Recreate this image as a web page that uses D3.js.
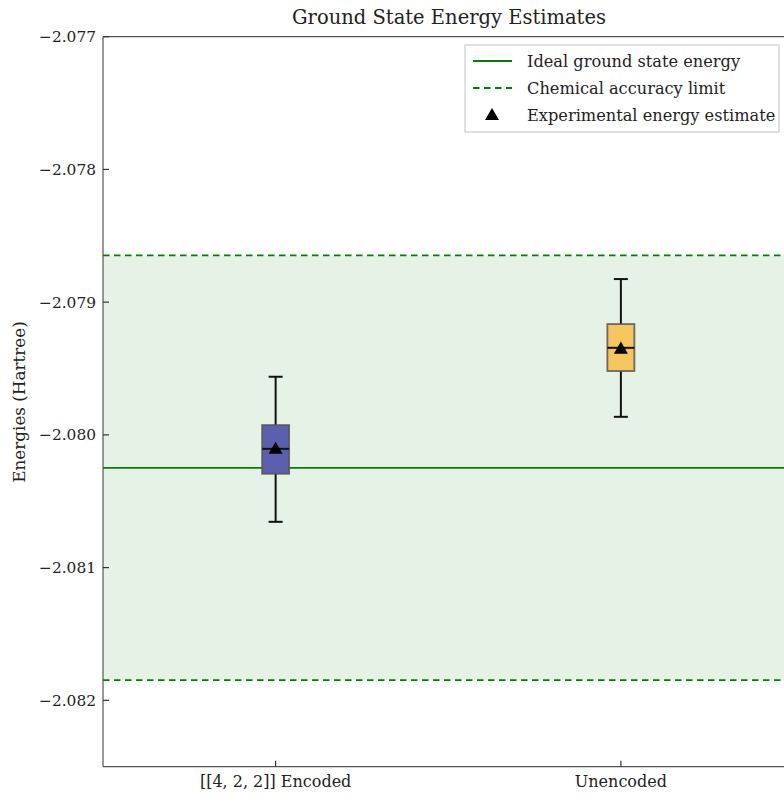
<!DOCTYPE html>
<html><head><meta charset="utf-8">
<script src="https://cdn.jsdelivr.net/npm/d3@7"></script>
<style>body{margin:0;background:#fff}svg{display:block}text{font-family:"DejaVu Serif",serif;fill:#222}</style>
</head><body><svg id="c" width="784" height="794"></svg>
<script>
const categories = ["[[4, 2, 2]] Encoded", "Unencoded"];
const whiskerLow = [-2.080655, -2.079864];
const q1 = [-2.080293, -2.079519];
const median = [-2.080105, -2.079344];
const q3 = [-2.079926, -2.079165];
const whiskerHigh = [-2.079562, -2.078826];
const means = [-2.080105, -2.079350];
const boxColors = ["#5c5fad", "#f5c55f"];
const idealEnergy = -2.080248;
const chemAccuracy = 0.0016;
const yTicks = [-2.077, -2.078, -2.079, -2.080, -2.081, -2.082];

const svg = d3.select("#c");
const L = 103, T = 36.7, B = 766.7, R = 793.5;
const x = d3.scaleLinear().domain([0.5, 2.5]).range([L, R]);
const y = d3.scaleLinear().domain([-2.0825, -2.077]).range([B, T]);

svg.append("defs").append("clipPath").attr("id","pc").append("rect")
  .attr("x",L).attr("y",T).attr("width",R-L).attr("height",B-T);
const g = svg.append("g").attr("clip-path","url(#pc)");

// accuracy band
g.append("rect").attr("x",L).attr("width",R-L)
  .attr("y",y(idealEnergy+chemAccuracy)).attr("height",y(idealEnergy-chemAccuracy)-y(idealEnergy+chemAccuracy))
  .attr("fill","#008000").attr("fill-opacity",0.1);
[idealEnergy+chemAccuracy, idealEnergy-chemAccuracy].forEach(v=>{
  g.append("line").attr("x1",L).attr("x2",R).attr("y1",y(v)).attr("y2",y(v))
   .attr("stroke","#008000").attr("stroke-width",1.8).attr("stroke-dasharray","6.5,4.5");
});
g.append("line").attr("x1",L).attr("x2",R).attr("y1",y(idealEnergy)).attr("y2",y(idealEnergy))
  .attr("stroke","#0a7a0a").attr("stroke-width",1.8);

const bw = 27, cw = 14;
categories.forEach((c,i)=>{
  const cx = x(i+1);
  g.append("line").attr("x1",cx).attr("x2",cx).attr("y1",y(whiskerHigh[i])).attr("y2",y(q3[i])).attr("stroke","#111").attr("stroke-width",2);
  g.append("line").attr("x1",cx).attr("x2",cx).attr("y1",y(q1[i])).attr("y2",y(whiskerLow[i])).attr("stroke","#111").attr("stroke-width",2);
  [whiskerHigh[i], whiskerLow[i]].forEach(v=>{
    g.append("line").attr("x1",cx-cw/2).attr("x2",cx+cw/2).attr("y1",y(v)).attr("y2",y(v)).attr("stroke","#111").attr("stroke-width",2);
  });
  g.append("rect").attr("x",cx-bw/2).attr("width",bw).attr("y",y(q3[i])).attr("height",y(q1[i])-y(q3[i]))
    .attr("fill",boxColors[i]).attr("stroke","#555").attr("stroke-opacity",0.85).attr("stroke-width",1.8);
  g.append("line").attr("x1",cx-bw/2).attr("x2",cx+bw/2).attr("y1",y(median[i])).attr("y2",y(median[i])).attr("stroke","#111").attr("stroke-width",2);
  g.append("path").attr("d", d3.symbol(d3.symbolTriangle, 85)()).attr("transform",`translate(${cx},${y(means[i])+1})`).attr("fill","#000");
});

// axes
svg.append("line").attr("x1",L).attr("x2",L).attr("y1",T).attr("y2",B).attr("stroke","#555").attr("stroke-width",1.2);
svg.append("line").attr("x1",L).attr("x2",R).attr("y1",T).attr("y2",T).attr("stroke","#555").attr("stroke-width",1.2);
svg.append("line").attr("x1",L).attr("x2",R).attr("y1",B).attr("y2",B).attr("stroke","#555").attr("stroke-width",1.2);
yTicks.forEach(v=>{
  svg.append("line").attr("x1",L).attr("x2",L+6).attr("y1",y(v)).attr("y2",y(v)).attr("stroke","#333").attr("stroke-width",1.2);
  svg.append("text").attr("x",L-7).attr("y",y(v)).attr("dy","0.35em").attr("text-anchor","end")
    .attr("font-size",15.4).text("\u2212"+Math.abs(v).toFixed(3));
});
categories.forEach((c,i)=>{
  svg.append("line").attr("x1",x(i+1)).attr("x2",x(i+1)).attr("y1",B).attr("y2",B-6).attr("stroke","#333").attr("stroke-width",1.2);
  svg.append("text").attr("x",x(i+1)).attr("y",B+20).attr("text-anchor","middle").attr("font-size",16).text(c);
});
svg.append("text").attr("x",449).attr("y",24).attr("text-anchor","middle").attr("font-size",19.5).text("Ground State Energy Estimates");
svg.append("text").attr("transform","translate(25,402) rotate(-90)").attr("text-anchor","middle").attr("font-size",16.8).text("Energies (Hartree)");

// legend
const lg = svg.append("g");
lg.append("rect").attr("x",465).attr("y",45).attr("width",314).attr("height",87).attr("fill","#fff").attr("fill-opacity",0.85).attr("stroke","#ccc").attr("stroke-width",1.2);
const items = [
  {t:"Ideal ground state energy", k:"solid"},
  {t:"Chemical accuracy limit", k:"dash"},
  {t:"Experimental energy estimate", k:"tri"}
];
items.forEach((it,j)=>{
  const yy = 61 + j*27;
  if (it.k==="solid") lg.append("line").attr("x1",473).attr("x2",512).attr("y1",yy).attr("y2",yy).attr("stroke","#0a7a0a").attr("stroke-width",1.8);
  else if (it.k==="dash") lg.append("line").attr("x1",473).attr("x2",512).attr("y1",yy).attr("y2",yy).attr("stroke","#008000").attr("stroke-width",1.8).attr("stroke-dasharray","6.5,4.5");
  else lg.append("path").attr("d", d3.symbol(d3.symbolTriangle, 85)()).attr("transform",`translate(492,${yy+1})`).attr("fill","#000");
  lg.append("text").attr("x",527).attr("y",yy).attr("dy","0.35em").attr("font-size",16.2).text(it.t);
});
</script></body></html>
